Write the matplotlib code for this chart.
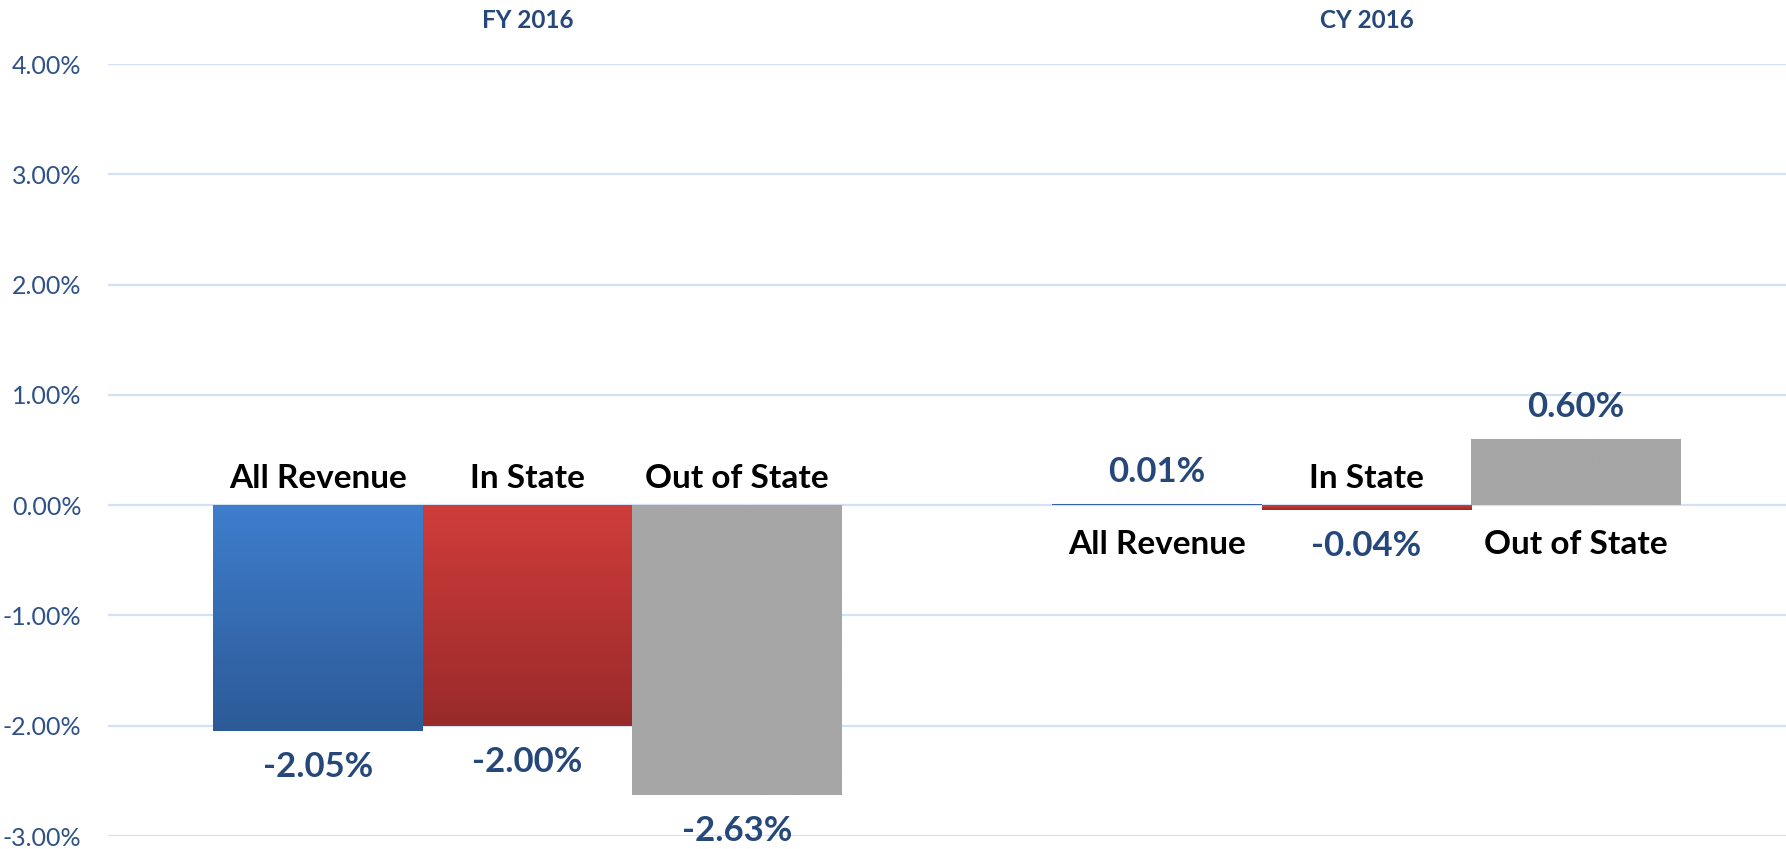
import numpy as np
import matplotlib
matplotlib.use("Agg")
import matplotlib.pyplot as plt
from matplotlib.colors import LinearSegmentedColormap

periods = ["FY 2016", "CY 2016"]
series = ["All Revenue", "In State", "Out of State"]
values = {
    "All Revenue": [-2.05, 0.01],
    "In State": [-2.00, -0.04],
    "Out of State": [-2.63, 0.60],
}
yticks = [-3, -2, -1, 0, 1, 2, 3, 4]

# top / bottom colours of each bar gradient
grad_colors = {
    "All Revenue": ("#3F7ECD", "#2C5A97"),
    "In State": ("#CF3D3B", "#992A2A"),
    "Out of State": ("#A6A6A6", "#A6A6A6"),
}

title_color = "#25477A"
tick_color = "#2E5288"
grid_color = "#D4E1F2"

plt.rcParams["font.family"] = ["Lato", "DejaVu Sans"]

fig = plt.figure(figsize=(17.86, 8.49), dpi=100)
ax = fig.add_axes([108 / 1786, 13 / 849, 1 - 108 / 1786, (836 - 64) / 849])

bar_w = 0.25
centers = np.arange(len(periods)) + 0.5
offsets = [-bar_w, 0, bar_w]

for k, name in enumerate(series):
    top_c, bot_c = grad_colors[name]
    cmap = LinearSegmentedColormap.from_list(name, [bot_c, top_c])
    bars = ax.bar(centers + offsets[k], values[name], width=bar_w, color=top_c, zorder=2)
    for bar, v in zip(bars, values[name]):
        x0 = bar.get_x()
        x1 = x0 + bar.get_width()
        y0, y1 = sorted([0, v])
        grad = np.linspace(0, 1, 256).reshape(-1, 1)
        im = ax.imshow(grad, cmap=cmap, origin="lower", aspect="auto",
                       extent=[x0, x1, y0, y1], zorder=3)
        im.set_clip_path(bar)

        # value label at the end of the bar
        off = 32 if v >= 0 else -36
        ax.annotate(f"{v:.2f}%", (bar.get_x() + bar.get_width() / 2, v),
                    xytext=(0, off), textcoords="offset pixels",
                    ha="center", va="center", fontsize=25, fontweight="bold",
                    color=title_color, zorder=5)
        # series name on the other side of zero
        noff = -39 if v >= 0 else 27
        ax.annotate(name, (bar.get_x() + bar.get_width() / 2, 0),
                    xytext=(0, noff), textcoords="offset pixels",
                    ha="center", va="center", fontsize=24, fontweight="bold",
                    color="black", zorder=5)

ax.set_xlim(0, len(periods))
ax.set_ylim(-3, 4)

# period titles at the top
for c, p in zip(centers, periods):
    ax.annotate(p, (c, 4), xytext=(0, 43), textcoords="offset pixels",
                ha="center", va="center", fontsize=17.5, fontweight="bold",
                color=title_color, annotation_clip=False)

ax.set_yticks(yticks)
ax.set_yticklabels([f"{t:.2f}%" for t in yticks])
ax.tick_params(axis="y", length=0, pad=19, labelsize=18, labelcolor=tick_color)
ax.set_xticks([])
ax.yaxis.grid(True, color=grid_color, linewidth=1.6, zorder=0)
ax.set_axisbelow(True)
for s in ax.spines.values():
    s.set_visible(False)

fig.savefig("out.png", dpi=100)
